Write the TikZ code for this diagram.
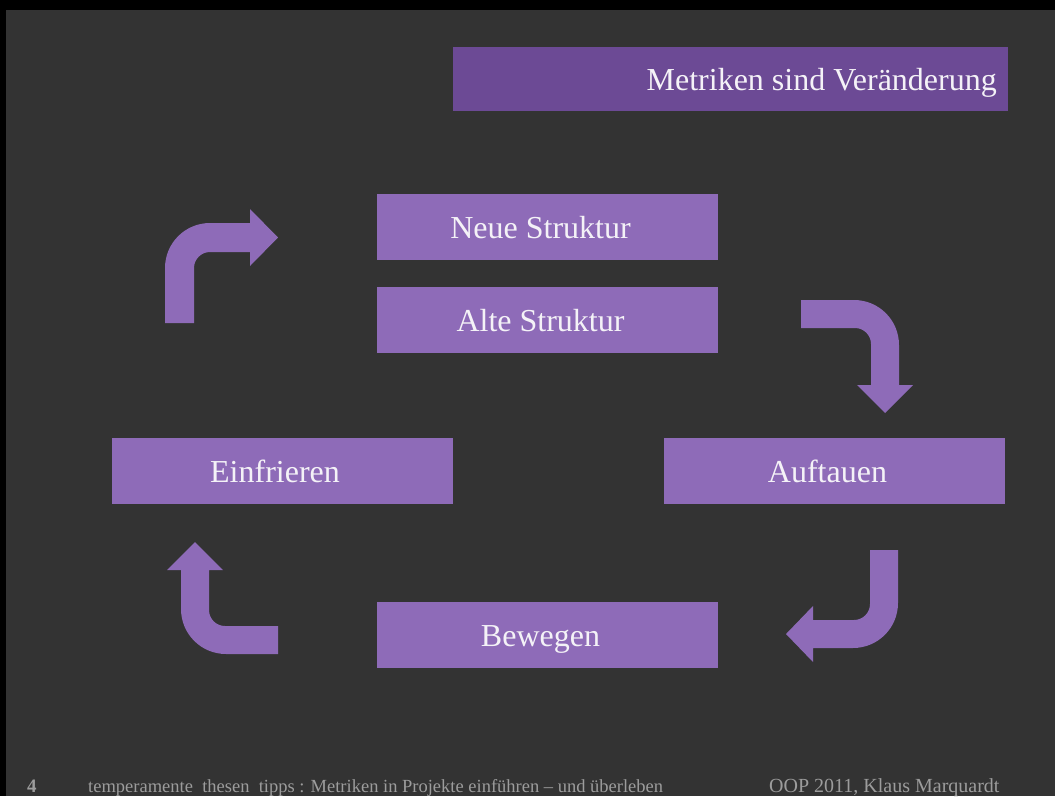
\documentclass[tikz,border=0pt]{standalone}
\usepackage{fontspec}
\setmainfont{Liberation Serif}
\definecolor{bgdark}{HTML}{333333}
\definecolor{boxpurple}{HTML}{8E6BB8}
\definecolor{titlepurple}{HTML}{6C4A95}
\definecolor{labeltext}{HTML}{F4F2F7}
\definecolor{footgray}{HTML}{9C9C9C}
\tikzset{
  stagebox/.style={fill=boxpurple, draw=none, minimum width=341pt, minimum height=66pt, inner sep=0pt},
  stagelabel/.style={text=labeltext, font=\fontsize{32}{36}\selectfont, inner sep=0pt, anchor=base},
  bentarrow/.style={fill=boxpurple, draw=none},
  foottext/.style={text=footgray, font=\fontsize{19}{22}\selectfont, inner sep=0pt, anchor=base west}
}
\begin{document}
\begin{tikzpicture}[x=1pt,y=-1pt]
\useasboundingbox (0,0) rectangle (1055,796);
% background and frame
\fill[bgdark] (0,0) rectangle (1055,796);
\fill[black] (0,0) rectangle (1055,10);
\fill[black] (0,0) rectangle (6,796);
% title
\node[fill=titlepurple, minimum width=555pt, minimum height=64pt, inner sep=0pt] (title) at (730.5,79) {};
\node[text=labeltext, font=\fontsize{32}{36}\selectfont, inner sep=0pt, anchor=base east] (titletext) at (997,90) {Metriken sind Veränderung};
% stage boxes
\node[stagebox] (neu) at (547.5,227) {};
\node[stagelabel] (neutext) at ([xshift=-7pt,yshift=-11.5pt]neu.center) {Neue Struktur};
\node[stagebox] (alt) at (547.5,319.5) {};
\node[stagelabel] (alttext) at ([xshift=-7pt,yshift=-11.5pt]alt.center) {Alte Struktur};
\node[stagebox] (ein) at (282,470.5) {};
\node[stagelabel] (eintext) at ([xshift=-7pt,yshift=-11.5pt]ein.center) {Einfrieren};
\node[stagebox] (auf) at (834.5,470.5) {};
\node[stagelabel] (auftext) at ([xshift=-7pt,yshift=-11.5pt]auf.center) {Auftauen};
\node[stagebox] (bew) at (547.5,634.5) {};
\node[stagelabel] (bewtext) at ([xshift=-7pt,yshift=-11.5pt]bew.center) {Bewegen};
% bent arrows
\fill[bentarrow] (165,323) -- (165,268) .. controls (165,243.1) and (185.1,223) .. (210,223)
  -- (250,223) -- (250,209) -- (278,237.5) -- (250,266) -- (250,252) -- (210,252)
  .. controls (201.2,252) and (194,259.2) .. (194,268) -- (194,323) -- cycle;
\fill[bentarrow] (801,300) -- (854,300) .. controls (878.9,300) and (899,320.1) .. (899,345)
  -- (899,385) -- (913,385) -- (885,413) -- (857,385) -- (871,385) -- (871,344)
  .. controls (871,335.2) and (863.8,328) .. (855,328) -- (801,328) -- cycle;
\fill[bentarrow] (898,550) -- (898,603) .. controls (898,627.9) and (877.9,648) .. (853,648)
  -- (813,648) -- (813,662) -- (786,634) -- (813,606) -- (813,620) -- (854,620)
  .. controls (862.8,620) and (870,612.8) .. (870,604) -- (870,550) -- cycle;
\fill[bentarrow] (278,654) -- (226,654) .. controls (201.1,654) and (181,633.9) .. (181,609)
  -- (181,570) -- (167,570) -- (195,542) -- (223,570) -- (209,570) -- (209,610)
  .. controls (209,618.8) and (216.2,626) .. (225,626) -- (278,626) -- cycle;
% footer
\node[foottext, font=\fontsize{19}{22}\selectfont\bfseries] (pagenum) at (27,792) {4};
\node[foottext, font=\fontsize{18.5}{22}\selectfont] (footleft) at (88,792) {temperamente\ \ thesen\ \ tipps : Metriken in Projekte einführen – und überleben};
\node[foottext, font=\fontsize{20}{22}\selectfont] (footright) at (769,792) {OOP 2011, Klaus Marquardt};
\end{tikzpicture}
\end{document}
